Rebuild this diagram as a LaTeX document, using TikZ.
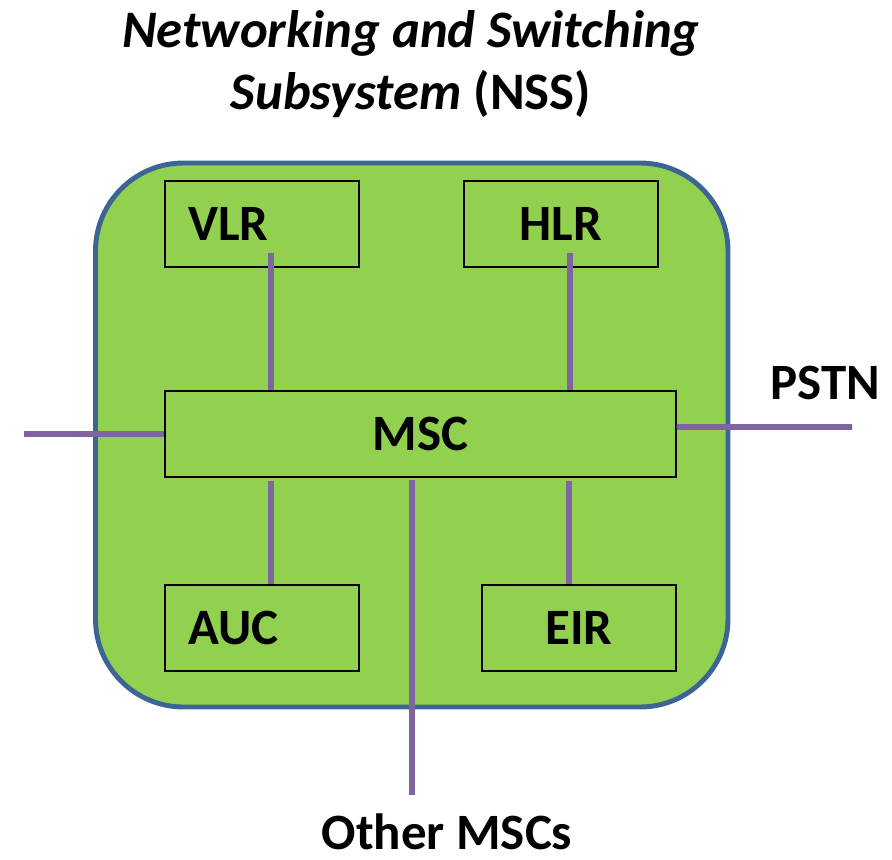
\documentclass[tikz,border=0pt]{standalone}
\usepackage{fontspec}
\setmainfont{Carlito}
\usepackage{tikz}
\usetikzlibrary{positioning, calc}
\definecolor{nssgreen}{HTML}{92D050}
\definecolor{nssblue}{HTML}{3C6494}
\definecolor{linkpurple}{HTML}{8064A2}
\tikzstyle{subsystem} = [rectangle, rounded corners=1.76cm, draw=nssblue, line width=2.8pt, fill=nssgreen]
\tikzstyle{unit} = [rectangle, minimum width=3.88cm, minimum height=1.72cm, text centered, draw=black, line width=0.85pt, fill=nssgreen, font=\bfseries\fontsize{29}{35}\selectfont]
\tikzstyle{leftunit} = [unit, text width=2.96cm, align=left, inner xsep=0.46cm]
\tikzstyle{tag} = [font=\bfseries\fontsize{29}{35}\selectfont]
\tikzstyle{link} = [line width=3.4pt, draw=linkpurple]

\begin{document}
\begin{tikzpicture}[x=0.02cm, y=0.02cm, node distance=4.2cm]
        \useasboundingbox (0,0) rectangle (892,-859);
        \draw [subsystem] (95.5,-163) rectangle (728,-707);

        \node (title) [tag, font=\bfseries\fontsize{30}{35}\selectfont, align=center] at (411,-64) {\textit{Networking and Switching}\\\textit{Subsystem} (NSS)};
        \node (msc) [unit, minimum width=10.22cm] at (420.5,-434) {MSC};
        \node (vlr) [leftunit, above of=msc, xshift=-3.17cm] {VLR};
        \node (hlr) [unit, above of=msc, xshift=2.81cm] {HLR};
        \node (auc) [leftunit, below of=msc, xshift=-3.17cm, yshift=0.32cm] {AUC};
        \node (eir) [unit, below of=msc, xshift=3.17cm, yshift=0.32cm] {EIR};
        \node (pstn) [tag, anchor=base] at (825,-399) {PSTN};
        \node (other) [tag, anchor=base, inner sep=1pt, text depth=0pt] at (447,-849) {Other MSCs};
        \coordinate (west end) at (24,-434);
        \coordinate (east end) at (852,-427);

        \draw [link] ([xshift=0.18cm, yshift=0.3cm]vlr.south) -- ([xshift=0.18cm]vlr.south |- msc.north);
        \draw [link] ([xshift=0.18cm, yshift=0.3cm]hlr.south) -- ([xshift=0.18cm]hlr.south |- msc.north);
        \draw [link] ([xshift=0.18cm, yshift=-0.06cm]auc.north |- msc.south) -- ([xshift=0.18cm]auc.north);
        \draw [link] ([xshift=-0.2cm, yshift=-0.06cm]eir.north |- msc.south) -- ([xshift=-0.2cm]eir.north);
        \draw [link] ([xshift=-0.17cm, yshift=-0.04cm]msc.south) -- ([xshift=-0.17cm, yshift=0.32cm]msc.south |- other.north);
        \draw [link] (west end) -- (msc.west);
        \draw [link] ([yshift=0.14cm]msc.east) -- (east end);
\end{tikzpicture}
\end{document}
